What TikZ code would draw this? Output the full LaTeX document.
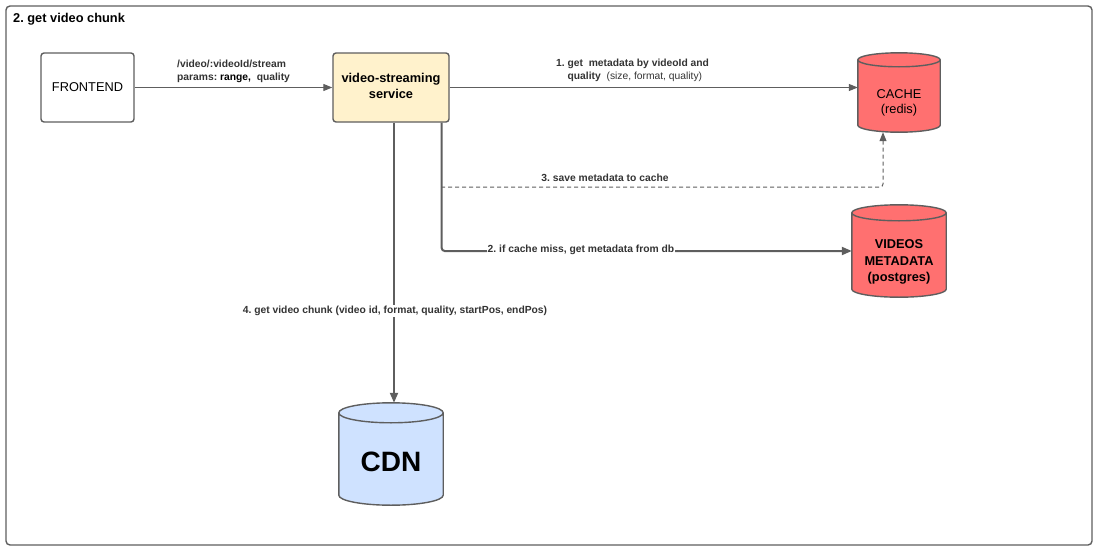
\documentclass[tikz,border=0pt]{standalone}
\usepackage{fontspec}
\setmainfont{Liberation Sans}
\frenchspacing
\usetikzlibrary{arrows.meta,backgrounds,calc}
\definecolor{linec}{HTML}{5E5E5E}
\definecolor{txt}{HTML}{333333}
\definecolor{svcfill}{HTML}{FFF2CC}
\definecolor{redfill}{HTML}{FF7070}
\definecolor{bluefill}{HTML}{CFE2FF}
\newcommand\cylbody[3]{%
  \path let \p1=(#1.north west), \p2=(#1.south east), \n1={(\x2-\x1)/2} in
    [draw=linec, fill=#3, line width=1.4pt]
    (\x1,\y1) -- (\x1,{\y2+#2})
    arc[start angle=180, end angle=360, x radius=\n1, y radius=#2]
    -- (\x2,\y1)
    arc[start angle=0, end angle=180, x radius=\n1, y radius=#2] -- cycle
    (\x1,\y1) arc[start angle=180, end angle=360, x radius=\n1, y radius=#2];
}
\tikzset{
  box/.style={draw=linec, line width=1.4pt, rounded corners=3pt, inner sep=0pt, align=center},
  cylnode/.style={inner sep=0pt},
  cyltext/.style={inner sep=0pt, align=center},
  lbl/.style={text=txt, font=\bfseries\fontsize{10.3}{12.8}\selectfont, inner sep=1pt},
  arr/.style={draw=linec, line width=1.2pt, -{Triangle[length=9pt,width=7pt]}},
  arrthick/.style={draw=linec, line width=2pt, -{Triangle[length=10pt,width=8pt]}},
}
\begin{document}
\begin{tikzpicture}[x=1pt,y=-1pt]
\useasboundingbox (0,0) rectangle (1104,557);
\node[anchor=west, font=\bfseries\fontsize{12.8}{15}\selectfont, inner sep=0pt] (title) at (13,19) {2. get video chunk};
\node[box, fill=white, minimum width=93pt, minimum height=69pt, font=\fontsize{12.8}{15}\selectfont] (fe) at (87.5,87.5) {FRONTEND};
\node[box, fill=svcfill, minimum width=116pt, minimum height=69pt,
  label={[cyltext, yshift=2pt, font=\bfseries\fontsize{12.8}{16}\selectfont]center:{video-streaming\\service}}] (svc) at (391,87.5) {};
\node[cylnode, minimum width=82pt, minimum height=72pt,
  label={[cyltext, yshift=-7pt, font=\fontsize{12.8}{15}\selectfont]center:{CACHE\\(redis)}}] (cache) at (899,96) {};
\node[cylnode, minimum width=94pt, minimum height=84pt,
  label={[cyltext, yshift=-7pt, font=\bfseries\fontsize{12.8}{16.5}\selectfont]center:{VIDEOS\\METADATA\\(postgres)}}] (meta) at (899,255) {};
\node[cylnode, minimum width=104pt, minimum height=92pt,
  label={[cyltext, yshift=-3pt, font=\bfseries\fontsize{28}{32}\selectfont]center:CDN}] (cdn) at (391,459) {};
\begin{scope}[on background layer]
  \draw[draw=linec, line width=1.4pt, rounded corners=4pt] (6,6) rectangle (1092,545);
  \cylbody{cache}{7pt}{redfill}
  \cylbody{meta}{8pt}{redfill}
  \cylbody{cdn}{10pt}{bluefill}
\end{scope}
% connectors
\draw[arr] (fe) -- (svc);
\draw[arr] (svc.east) -- (svc.east -| cache.west);
\draw[arrthick, rounded corners=3pt] ([xshift=-8pt]svc.south east) |- ([yshift=4pt]meta.west);
\coordinate (d0) at (441,187);
\draw[arr, dash pattern=on 4pt off 3pt, line width=1pt, rounded corners=3pt] (d0) -| ([xshift=-16pt]cache.south);
\draw[arrthick] ([xshift=3pt]svc.south) -- ([xshift=3pt,yshift=10pt]cdn.north);
% labels
\node[lbl, anchor=west, align=left] (lfe) at (176,71.5) {/video/:videoId/stream\\params: \textcolor{black}{range,}~~quality};
\node[lbl, anchor=west, align=left] (lcache) at (555,70) {1.~get~~metadata by videoId and\\\phantom{1.~}quality~~\mdseries(size, format, quality)};
\node[lbl] (lsave) at (605,178) {3. save metadata to cache};
\node[lbl, fill=white] (lmiss) at (581,250) {2. if cache miss, get metadata from db};
\node[lbl, fill=white] (lcdn) at (395,311) {4. get video chunk (video id, format, quality, startPos, endPos)};
\end{tikzpicture}
\end{document}
